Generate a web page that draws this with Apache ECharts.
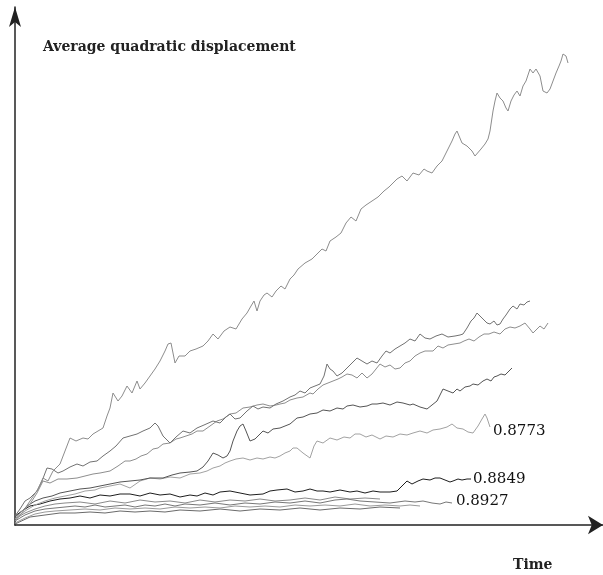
<!DOCTYPE html>
<html>
<head>
<meta charset="utf-8">
<script src="https://cdn.jsdelivr.net/npm/echarts@6/dist/echarts.min.js"></script>
<style>html,body{margin:0;padding:0;background:#fff;}#c{width:603px;height:575px;}</style>
</head>
<body>
<div id="c"></div>
<script>
// Values: [time, average quadratic displacement] (arbitrary units)
var seriesTop = [[0,4],[7,12],[15,24],[23,36],[28,47],[33,44],[38,54],[45,61],[50,74],[55,87],[61,84],[68,87],[73,86],[78,91],[83,94],[88,97],[92,109],[95,117],[98,132],[103,124],[107,129],[112,139],[117,132],[122,144],[125,136],[130,142],[135,149],[140,156],[145,164],[150,174],[153,181],[156,182],[160,162],[164,169],[170,169],[175,174],[181,176],[188,179],[193,184],[198,191],[203,186],[209,194],[215,198],[221,196],[227,206],[232,212],[236,219],[239,224],[242,214],[245,224],[249,230],[252,232],[257,228],[261,234],[266,239],[270,236],[275,246],[279,250],[283,256],[290,262],[297,266],[303,272],[307,276],[311,274],[315,284],[321,288],[326,292],[331,302],[336,308],[341,304],[346,316],[351,320],[357,324],[363,328],[369,334],[374,338],[378,342],[382,346],[387,349],[392,344],[398,352],[404,350],[409,356],[412,354],[417,352],[422,359],[427,364],[432,374],[437,384],[440,391],[442,394],[447,382],[452,379],[457,374],[460,369],[462,371],[466,376],[470,381],[473,386],[475,394],[478,414],[480,424],[482,432],[485,427],[488,424],[491,417],[493,414],[496,424],[499,430],[502,434],[505,429],[508,439],[511,444],[515,456],[518,452],[521,456],[525,449],[528,434],[532,432],[535,436],[538,444],[541,452],[544,459],[546,464],[548,471],[551,469],[553,462]];
var seriesA = [[0,9],[5,16],[10,24],[15,27],[22,34],[27,44],[32,57],[37,56],[43,52],[48,54],[55,58],[62,61],[68,59],[75,63],[82,64],[88,69],[95,74],[101,79],[108,87],[115,89],[122,91],[128,94],[135,97],[140,102],[143,99],[148,89],[155,82],[161,88],[168,94],[175,92],[182,97],[189,100],[198,104],[205,102],[211,108],[215,111],[220,106],[225,107],[232,114],[238,119],[243,116],[248,118],[255,117],[261,121],[268,124],[275,128],[280,130],[285,134],[290,132],[295,137],[300,139],[305,141],[309,149],[312,161],[315,156],[318,154],[322,149],[327,152],[333,158],[337,162],[342,167],[347,164],[352,161],[357,164],[362,162],[367,169],[371,174],[375,172],[380,176],[385,179],[390,182],[395,186],[400,184],[405,191],[410,187],[415,186],[421,189],[427,191],[433,188],[440,189],[445,190],[448,191],[452,197],[456,204],[459,207],[462,212],[465,209],[468,206],[472,202],[475,201],[479,204],[482,200],[485,201],[488,206],[491,210],[495,216],[498,219],[502,216],[505,221],[509,220],[512,223],[515,224]];
var seriesB = [[0,6],[7,14],[15,21],[22,32],[28,44],[35,42],[43,46],[52,46],[62,47],[70,49],[78,51],[85,52],[95,54],[103,59],[110,64],[115,64],[121,66],[126,69],[132,71],[138,76],[143,77],[148,81],[155,82],[161,86],[165,87],[171,89],[177,91],[182,94],[188,94],[195,99],[202,104],[208,106],[215,111],[221,112],[228,117],[235,118],[242,120],[248,121],[255,119],[261,120],[265,121],[270,122],[275,125],[282,127],[288,128],[295,132],[298,131],[303,136],[308,140],[313,142],[318,144],[323,146],[327,148],[332,151],[337,150],[342,147],[347,152],[352,147],[357,151],[361,156],[365,161],[370,158],[375,160],[380,156],[385,157],[390,162],[395,164],[400,169],[405,172],[410,174],[418,174],[423,179],[428,177],[433,180],[439,181],[445,182],[449,184],[454,186],[459,184],[464,188],[469,191],[474,191],[479,193],[485,191],[490,196],[495,198],[500,197],[505,199],[510,202],[512,201],[515,196],[518,192],[522,196],[525,199],[529,196],[533,202]];
var seriesD = [[0,8],[5,12],[12,19],[20,24],[28,27],[37,29],[45,32],[55,34],[65,36],[75,37],[85,39],[95,41],[105,43],[115,44],[125,45],[135,47],[148,47],[157,50],[165,52],[175,53],[182,54],[188,58],[193,64],[198,72],[203,70],[208,67],[212,69],[215,74],[218,84],[222,94],[225,99],[228,101],[231,94],[235,84],[240,86],[245,91],[248,94],[253,92],[258,96],[265,97],[270,99],[275,101],[282,107],[288,108],[295,111],[302,112],[308,115],[315,114],[322,117],[328,116],[332,119],[338,120],[345,118],[352,119],[357,121],[362,121],[368,122],[375,120],[382,123],[388,122],[395,120],[398,121],[405,118],[412,116],[417,120],[422,124],[425,130],[428,136],[433,134],[438,132],[442,136],[445,134],[450,138],[455,139],[458,141],[463,140],[468,144],[472,146],[476,144],[479,148],[482,149],[486,151],[490,150],[494,154],[497,157]];
var series8773 = [[0,6],[10,14],[20,20],[30,24],[40,27],[50,29],[60,31],[70,34],[80,35],[85,37],[95,39],[105,41],[115,37],[125,44],[135,47],[145,46],[155,48],[165,47],[175,51],[185,52],[192,54],[198,57],[205,59],[210,62],[215,64],[221,66],[228,67],[235,65],[242,67],[248,66],[255,68],[260,67],[265,69],[270,72],[275,74],[278,77],[282,77],[288,72],[295,67],[299,79],[302,84],[308,82],[315,87],[322,85],[329,88],[335,87],[340,91],[345,91],[351,88],[357,90],[365,86],[371,89],[378,88],[385,91],[392,90],[398,92],[405,94],[412,92],[418,95],[425,96],[432,98],[437,101],[442,97],[448,96],[453,93],[458,92],[463,99],[467,106],[470,111],[472,107],[475,98]];
var series8849 = [[0,9],[7,14],[15,19],[25,21],[35,24],[45,26],[55,27],[65,29],[75,27],[85,30],[95,29],[105,31],[115,31],[125,29],[135,32],[145,30],[155,31],[165,28],[175,30],[182,29],[190,32],[198,30],[205,33],[215,34],[225,32],[235,30],[248,31],[255,34],[262,35],[272,36],[280,33],[288,34],[295,36],[302,34],[308,34],[315,33],[325,35],[335,33],[342,34],[350,32],[358,34],[365,33],[375,33],[382,34],[387,39],[392,44],[397,41],[403,44],[408,46],[415,45],[420,47],[425,47],[430,45],[435,43],[438,44],[443,46],[447,45],[452,46],[456,46]];
var series8927 = [[0,4],[10,10],[20,14],[30,16],[40,17],[50,18],[60,19],[70,18],[80,20],[90,18],[100,19],[110,20],[120,18],[130,20],[140,19],[150,21],[160,19],[170,21],[185,20],[200,22],[215,20],[230,22],[245,21],[260,23],[275,22],[290,24],[305,22],[320,25],[332,26],[345,24],[360,23],[375,22],[390,24],[400,23],[408,24],[417,22],[425,21],[431,23],[437,22]];
var seriesBundle2 = [[0,2],[10,7],[20,11],[30,13],[40,14],[55,15],[70,16],[85,15],[100,17],[115,16],[130,17],[145,16],[160,18],[175,17],[190,18],[205,17],[220,19],[235,18],[250,19],[265,18],[280,20],[295,19],[310,20],[325,19],[340,21],[355,19],[370,20],[385,19],[395,20],[405,19]];
var seriesBundle3 = [[0,6],[10,12],[20,16],[30,19],[40,21],[50,22],[65,23],[80,21],[95,24],[110,22],[125,25],[140,23],[155,24],[170,22],[185,25],[200,23],[215,25],[230,24],[245,26],[260,24],[275,25],[290,27],[305,25],[320,28],[335,26],[350,27],[365,26]];
var seriesBundle4 = [[0,1],[15,8],[30,10],[45,12],[60,12],[75,13],[90,12],[105,14],[120,13],[135,14],[150,13],[165,15],[185,14],[205,16],[225,14],[245,16],[265,15],[285,17],[305,15],[325,17],[345,16],[365,18],[385,17]];
var endLabels = ['0.8773', '0.8849', '0.8927'];
var titleText = 'Average quadratic displacement';
var xName = 'Time';

var serif = 'DejaVu Serif';
function line(data, color, w, label, labelOffset, dist) {
  var s = {
    type: 'line', data: data, showSymbol: false, symbol: 'none', silent: true,
    lineStyle: {color: color, width: w}, z: 2
  };
  if (label) {
    s.endLabel = {show: true, formatter: label, fontFamily: serif, fontSize: 15,
      color: '#111', distance: dist, offset: labelOffset};
  }
  return s;
}

var chart = echarts.init(document.getElementById('c'), null, {renderer: 'canvas'});
chart.setOption({
  animation: false,
  backgroundColor: '#ffffff',
  title: [
    {text: titleText, left: 38, top: 35,
      textStyle: {fontFamily: serif, fontWeight: 'bold', fontSize: 14, color: '#222'}},
    {text: xName, left: 508, top: 553,
      textStyle: {fontFamily: serif, fontWeight: 'bold', fontSize: 14, color: '#222'}}
  ],
  grid: {left: 15, right: 0, top: 7, bottom: 50},
  xAxis: {type: 'value', min: 0, max: 588,
    axisLine: {show: true, onZero: false, symbol: ['none', 'arrow'], symbolSize: [14, 15],
      lineStyle: {color: '#222', width: 1.5}},
    axisTick: {show: false}, axisLabel: {show: false}, splitLine: {show: false}},
  yAxis: {type: 'value', min: 0, max: 518,
    axisLine: {show: true, onZero: false, symbol: ['none', 'arrow'], symbolSize: [9, 20],
      lineStyle: {color: '#222', width: 1.5}},
    axisTick: {show: false}, axisLabel: {show: false}, splitLine: {show: false}},
  series: [
    line(seriesBundle4, '#6a6a6a', 1),
    line(seriesBundle3, '#8a8a8a', 1),
    line(seriesBundle2, '#9a9a9a', 1),
    line(series8927, '#777777', 1, endLabels[2], [0, -2], 4),
    line(series8849, '#1e1e1e', 1, endLabels[1], [0, 0], 2),
    line(series8773, '#a2a2a2', 1, endLabels[0], [0, 4], 3),
    line(seriesD, '#555555', 1),
    line(seriesB, '#8e8e8e', 1),
    line(seriesA, '#727272', 1),
    line(seriesTop, '#8d8d8d', 1)
  ]
});
</script>
</body>
</html>
